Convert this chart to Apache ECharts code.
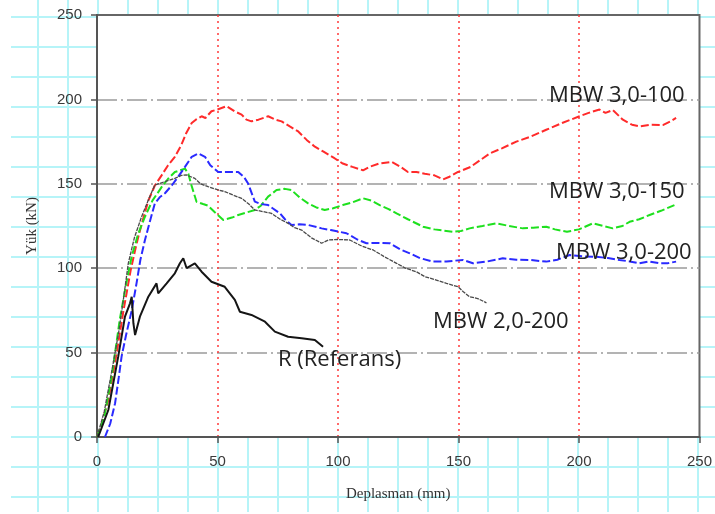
<!DOCTYPE html>
<html>
<head>
<meta charset="utf-8">
<script src="https://cdn.jsdelivr.net/npm/echarts@6/dist/echarts.min.js"></script>
<style>
  html, body { margin: 0; padding: 0; background: #fff; }
  #wrap { position: relative; width: 715px; height: 514px; }
  /* graph paper behind the chart */
  #paper {
    position: absolute; left: 11px; top: 0; width: 704px; height: 512px;
    background-image:
      linear-gradient(to right, #b6f4f8 2px, transparent 2px),
      linear-gradient(to bottom, #b6f4f8 2px, transparent 2px);
    background-size: 30px 30px;
    background-position: 26px 16px;
  }
  #chart { position: absolute; left: 0; top: 0; width: 715px; height: 514px; }
</style>
</head>
<body>
<div id="wrap">
  <div id="paper"></div>
  <div id="chart"></div>
</div>
<script>
// axis ticks
var xTicks = { min: 0, max: 250, step: 50 };
var yTicks = { min: 0, max: 250, step: 50 };

// [displacement mm, load kN]
var mbw100 = [[0,0],[2,8],[4.7,22],[8.2,50],[11,75],[14,99],[16.5,115],[18.5,126],[21.3,140],[24,149],[26.8,155],
  [29.5,161],[32.3,166],[35,173],[37,180],[39.3,186],[41,188],[43.4,190],[45,189],[47.5,193],[50,194],[53.8,196],
  [57,193],[60,191],[62,188],[64.1,187],[67,188],[71,190],[74,188],[76.6,187],[80,184],[83.5,181],[87,176],[90.4,172],
  [94,169],[98.7,165],[102,162],[106,160],[110.4,158],[113,160],[117,162],[122.2,163],[126,160],[129,157],[132.5,157],
  [136,156],[140,155],[143.6,152.6],[146,154],[149.8,157],[155,160],[160,165],[163,168],[168,171],[174,175],[180,178],
  [186.4,182],[193,186],[200.2,190],[204,192],[208.5,194],[211,192],[214,193.7],[218.2,188],[222,185],[225.1,184],
  [230,185],[234.8,184.8],[238,187],[240.3,189]];

var mbw150 = [[0,0],[3,12],[6,35],[9.5,70],[12,90],[14.4,107],[17,120],[19.9,130.5],[23,140],[26.8,148],[29.5,153],
  [32.3,157],[34.5,158],[36.5,159],[37.9,156],[39,150],[41.3,139.4],[44,138],[46.1,137],[49,133],[52.4,128.6],[56,130],
  [58.6,131.5],[62,133],[65.5,134.5],[68,137],[71,142.4],[74.5,146.3],[78,147],[80.7,146.3],[84,142],[87.6,138.4],
  [91,136],[94.5,134.5],[98,135.5],[102,137.4],[106,139],[110.4,141.4],[114,140],[117.3,137.4],[121,135],[124.3,132.5],
  [129,129],[135.3,124.6],[140,123],[147.7,121.6],[151,122],[154.6,123.6],[160,125],[165.7,126.6],[171,125],
  [176.7,123.6],[181,124],[186.4,124.6],[190,123],[195,121.6],[200,123],[205.8,126.6],[210,125],[214,123.6],[218,125],
  [221,127.5],[225,129],[229.3,131.5],[234,134],[239.6,137.4]];

var mbw200 = [[3.3,0],[5.5,8],[7.5,20],[9,35],[10.2,47.6],[12,60],[14.4,75],[16.4,91],[18,105],[19.9,116.7],[22,128],
  [24,138.4],[26,142],[28.2,144.4],[31,149],[33.7,154.2],[36.5,160],[39.3,166],[42,168],[44.8,166],[47,161],[50.3,157],
  [54.4,157],[58.6,157],[61,154],[62.7,150.2],[65.5,139.4],[68,138],[71,137.4],[75.9,132.5],[78,129],[80.7,125.6],
  [84,126],[87.6,125.6],[93.2,123.6],[97,122.6],[103.5,120.7],[108,117],[111.8,114.8],[116,115],[121.5,114.8],
  [126,111],[129.8,108.8],[134,106],[139.4,103.9],[145,104],[151.9,104.9],[156,102.9],[162,104],[168.4,105.9],
  [174,105],[179.5,104.9],[186.4,103.9],[191,105],[196.1,107.8],[202,107],[207.2,106.8],[212,106],[216.8,104.9],
  [221,104],[225.1,102.9],[229,104],[233.4,102.9],[237,103],[240.3,103.9]];

var mbw20200 = [[0,0],[3,15],[6,38],[9,62],[11,82],[13,103],[15.5,118],[18.5,130.5],[21.3,140.4],[24,149.3],
  [28.2,151.3],[32.3,153.2],[35,155],[37.2,155.2],[40.6,153.2],[43,150],[46.1,148.3],[50,146.5],[53,145.4],[57,143],
  [60,141.4],[63,138],[65.5,134.5],[69,133.5],[72.4,132.5],[76,129],[79.3,126.6],[82,124],[84.9,122.6],[89,118],
  [93.2,114.8],[96,116.7],[100,117],[104.9,116.7],[110,113],[114.6,110.8],[119,107],[124.3,102.9],[128,100],
  [132.5,97.9],[136,95],[140.8,93],[145,91],[149.8,89],[152,86],[154.6,83.1],[158,82],[161.6,79.5]];

var referans = [[0.5,0],[4.7,16],[8.8,47.6],[11.6,71.3],[13.7,79.2],[14.4,83.1],[15.1,67.4],[15.8,60.4],[17.8,71.3],
  [21.3,83.1],[24.7,91],[25.4,85.1],[28.9,91],[32.3,97],[34.4,102.9],[35.8,105.9],[37.2,100],[40.6,102.9],[43.4,97.9],
  [47.5,92],[53,89],[57.2,81.2],[59.3,74.2],[64.1,72.3],[69.7,68.3],[73.8,62.4],[79.3,59.4],[84.9,58.5],[90.4,57.5],
  [93.8,53.5]];

var chart = echarts.init(document.getElementById('chart'));

function curve(name, data, color, width, type) {
  return {
    name: name, type: 'line', data: data, showSymbol: false, smooth: false,
    lineStyle: { color: color, width: width, type: type }
  };
}

var labelFont = { fontFamily: 'Open Sans', fontSize: 22, fill: '#222' };
function note(text, x, y) {
  return { type: 'text', left: x, top: y, style: Object.assign({ text: text }, labelFont), z: 10 };
}

chart.setOption({
  animation: false,
  backgroundColor: 'transparent',
  textStyle: { fontFamily: 'Liberation Sans' },
  grid: {
    left: 97, right: 15, top: 15, bottom: 77,
    show: true, backgroundColor: '#fff', borderColor: '#666', borderWidth: 2
  },
  xAxis: {
    type: 'value', min: xTicks.min, max: xTicks.max, interval: xTicks.step,
    name: 'Deplasman (mm)', nameLocation: 'middle', nameGap: 50,
    nameTextStyle: { fontFamily: 'Liberation Serif', fontSize: 15, color: '#333' },
    axisLine: { lineStyle: { color: '#555', width: 2 } },
    axisTick: { show: true, length: 6, inside: false, lineStyle: { color: '#555', width: 1.5 } },
    axisLabel: { fontSize: 15, color: '#3a3a3a', margin: 17 },
    splitLine: { show: true, showMinLine: false, showMaxLine: false,
      lineStyle: { color: '#ff3a3a', width: 1.5, type: [2, 4] } }
  },
  yAxis: {
    type: 'value', min: yTicks.min, max: yTicks.max, interval: yTicks.step,
    name: 'Yük (kN)', nameLocation: 'middle', nameGap: 57, nameRotate: 90,
    nameTextStyle: { fontFamily: 'Liberation Serif', fontSize: 15, color: '#333' },
    axisLine: { show: true, lineStyle: { color: '#555', width: 2 } },
    axisTick: { show: true, length: 6, inside: false, lineStyle: { color: '#555', width: 1.5 } },
    axisLabel: { fontSize: 15, color: '#3a3a3a', margin: 15 },
    splitLine: { show: true, showMinLine: false, showMaxLine: false,
      lineStyle: { color: '#9a9a9a', width: 1.5, type: [20, 4, 2, 4] } }
  },
  series: [
    curve('MBW 3,0-100', mbw100, '#ff2a2a', 2, [8, 3]),
    curve('MBW 3,0-150', mbw150, '#1ee01e', 2, [8, 3]),
    curve('MBW 3,0-200', mbw200, '#2a2aff', 2, [8, 3]),
    curve('MBW 2,0-200', mbw20200, '#4a4a4a', 1.3, [4, 1]),
    curve('R (Referans)', referans, '#151515', 2, 'solid')
  ],
  graphic: [
    note('MBW 3,0-100', 549, 85),
    note('MBW 3,0-150', 549, 181),
    note('MBW 3,0-200', 556, 242),
    note('MBW 2,0-200', 433, 311),
    note('R (Referans)', 278, 349)
  ]
});
</script>
</body>
</html>
